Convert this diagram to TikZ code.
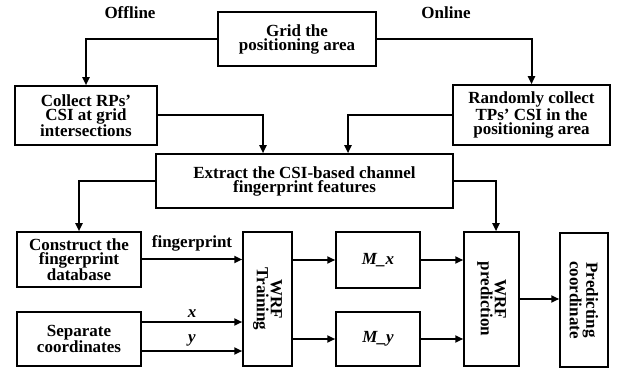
\documentclass[tikz,border=0pt]{standalone}
\usepackage{fontspec}
\setmainfont{Liberation Serif}
\usetikzlibrary{arrows.meta}
\tikzset{
  box/.style={draw, line width=1.5pt, align=center, inner sep=0pt,
    font=\fontsize{17}{14}\selectfont\bfseries},
  arr/.style={line width=2pt, -{Triangle[length=8pt,width=7pt]}},
  lbl/.style={font=\fontsize{17}{14}\selectfont\bfseries, inner sep=0pt},
}
\begin{document}
\begin{tikzpicture}[x=1pt, y=-1pt]
\useasboundingbox (0,0) rectangle (618,371);

% section headings
\node[lbl] (off) at (130,13) {Offline};
\node[lbl] (on)  at (446,13) {Online};

% process boxes
\node[box, minimum width=158pt, minimum height=54pt] (grid) at (297,39) {Grid the\\positioning area};
\node[box, minimum width=142pt, minimum height=59pt] (collect) at (86,115.5) {Collect RPs’\\CSI at grid\\intersections};
\node[box, minimum width=157pt, minimum height=60pt] (rand) at (531.5,115) {Randomly collect\\TPs’ CSI in the\\positioning area};
\node[box, minimum width=297pt, minimum height=54pt] (extract) at (304.5,181) {Extract the CSI-based channel\\fingerprint features};
\node[box, minimum width=124pt, minimum height=55pt] (construct) at (79,259.5) {Construct the\\fingerprint\\database};
\node[box, minimum width=124pt, minimum height=54pt] (separate) at (79,339) {Separate\\coordinates};
% vertical boxes: turned clockwise, so west = top, south = left, north = right
\node[box, rotate=-90, minimum width=134pt, minimum height=49pt] (train) at (267.5,299) {WRF\\Training};
\node[box, minimum width=84pt, minimum height=56pt] (mx) at (378,260) {\itshape M\_x};
\node[box, minimum width=84pt, minimum height=54pt] (my) at (378,339) {\itshape M\_y};
\node[box, rotate=-90, minimum width=134pt, minimum height=55pt] (pred) at (491.5,299) {WRF\\prediction};
\node[box, rotate=-90, minimum width=134pt, minimum height=48pt] (out) at (584,300) {Predicting\\coordinate};

% helper levels for the coordinate arrows
\coordinate (xlvl) at (0,322);
\coordinate (ylvl) at (0,351);

% connectors
\draw[arr] (grid.west) -| (collect.north);
\draw[arr] (grid.east) -| (rand.north);
\draw[arr] (collect.east) -| ([xshift=-41.5pt]extract.north);
\draw[arr] (rand.west) -| ([xshift=43.5pt]extract.north);
\draw[arr] (extract.west) -| (construct.north);
\draw[arr] (extract.east) -| ([xshift=4.5pt]pred.west);
\draw[arr] (construct.east) -- (construct.east -| train.south) node[lbl, midway, above=7pt] {fingerprint};
\draw[arr] (separate.east |- xlvl) -- (train.south |- xlvl) node[lbl, midway, above=4pt] {\itshape x};
\draw[arr] (separate.east |- ylvl) -- (train.south |- ylvl) node[lbl, midway, above=4pt] {\itshape y};
\draw[arr] (train.north |- mx.west) -- (mx.west);
\draw[arr] (train.north |- my.west) -- (my.west);
\draw[arr] (mx.east) -- (mx.east -| pred.south);
\draw[arr] (my.east) -- (my.east -| pred.south);
\draw[arr] (pred.north) -- (pred.north -| out.south);
\end{tikzpicture}
\end{document}
